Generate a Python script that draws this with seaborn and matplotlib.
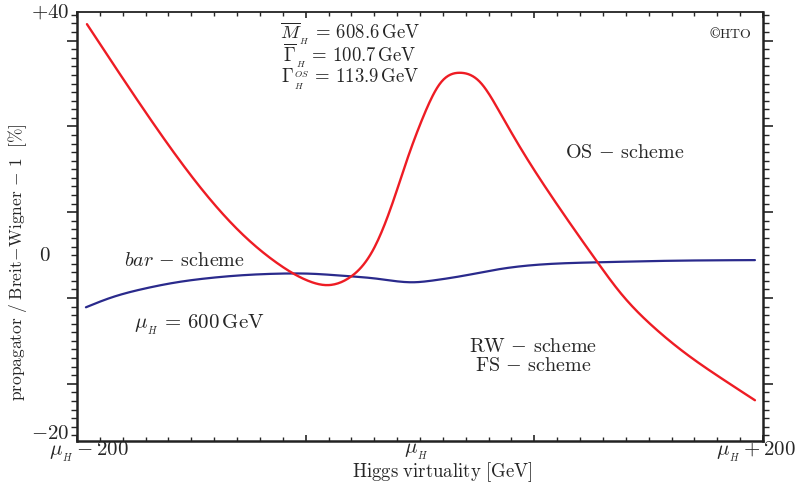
import numpy as np
import pandas as pd
import matplotlib
matplotlib.use("Agg")
import matplotlib.pyplot as plt
import matplotlib.transforms as mtransforms
from matplotlib.ticker import MultipleLocator, FixedLocator
import seaborn as sns

# ---- data (x relative to mu_H in GeV, y in %) ----
red_x = [-194.2, -160.9, -122.4, -102.6, -83.4, -64.1, -54.2,
         -40.8, -27.4, -15.7, -7.6, 1.8, 11.7, 23.3, 35.0, 46.7, 58.3, 77.6,
         103.8, 116.6, 135.9, 155.7, 174.9, 195.3]
red_y = [38.3, 26.3, 13.8, 8.7, 4.9, 2.3, 1.8,
         2.9, 6.7, 13.5, 19.3, 25.3, 30.0, 31.5, 30.2, 25.9, 21.1, 13.9,
         4.9, 0.8, -4.0, -7.9, -11.1, -14.3]
blue_x = [-194.8, -180.8, -160.9, -141.7, -122.4, -102.6, -83.4, -64.1, -44.3, -25.1,
          -4.1, 7.6, 27.4, 46.7, 65.9, 105.0, 144.0, 195.3]
blue_y = [-1.3, 0.0, 1.3, 2.2, 2.8, 3.2, 3.4, 3.4, 3.1, 2.7,
          2.2, 2.45, 3.2, 4.05, 4.6, 5.0, 5.2, 5.3]

xtick_vals = [-200, 0, 200]
xtick_labels = [r'$\mu_{_H}-200$', r'$\mu_{_H}$', r'$\mu_{_H}+200$']

sns.set_style("ticks")
plt.rcParams['mathtext.fontset'] = 'cm'
plt.rcParams['font.family'] = ['DejaVu Serif']

fig = plt.figure(figsize=(8.04, 4.83), dpi=100)
ax = fig.add_axes([77/804, 1-441/483, (763-77)/804, (441-12)/483])


def natural_spline(xs, ys, n=600):
    x = np.asarray(xs, float); y = np.asarray(ys, float)
    m = len(x)
    h = np.diff(x)
    A = np.zeros((m, m)); r = np.zeros(m)
    A[0, 0] = 1; A[-1, -1] = 1
    for i in range(1, m-1):
        A[i, i-1] = h[i-1]; A[i, i] = 2*(h[i-1]+h[i]); A[i, i+1] = h[i]
        r[i] = 3*((y[i+1]-y[i])/h[i] - (y[i]-y[i-1])/h[i-1])
    c = np.linalg.solve(A, r)
    b = (y[1:]-y[:-1])/h - h*(2*c[:-1]+c[1:])/3
    d = (c[1:]-c[:-1])/(3*h)
    xx = np.linspace(x[0], x[-1], n)
    idx = np.clip(np.searchsorted(x, xx) - 1, 0, m-2)
    dx = xx - x[idx]
    yy = y[idx] + b[idx]*dx + c[idx]*dx**2 + d[idx]*dx**3
    return xx, yy


rx, ry = natural_spline(red_x, red_y)
bx, by = natural_spline(blue_x, blue_y)
df_r = pd.DataFrame({'x': rx, 'y': ry})
df_b = pd.DataFrame({'x': bx, 'y': by})
sns.lineplot(data=df_b, x='x', y='y', ax=ax, color='#2a2a8c', lw=1.6, sort=False, estimator=None)
sns.lineplot(data=df_r, x='x', y='y', ax=ax, color='#ee1c24', lw=1.7, sort=False, estimator=None)

ax.set_xlim(-200, 200)
ax.set_ylim(-20, 40)

# ticks
ax.xaxis.set_major_locator(FixedLocator([-200, -200+400/3, -200+800/3, 200]))
ax.xaxis.set_minor_locator(MultipleLocator(400/30))
ax.set_xticklabels([])
ax.yaxis.set_major_locator(MultipleLocator(12))
ax.yaxis.set_minor_locator(MultipleLocator(1.2))
ax.set_yticklabels([])
ax.tick_params(axis='x', which='both', direction='in', top=True, bottom=True, width=1.2)
ax.tick_params(axis='x', which='major', length=4.5)
ax.tick_params(axis='x', which='minor', length=2.6, width=1.0)
ax.tick_params(axis='y', which='both', direction='out', left=True, right=True, width=1.2)
ax.tick_params(axis='y', which='major', length=7)
ax.tick_params(axis='y', which='minor', length=4.2, width=1.0)
for s in ['left', 'bottom', 'right']:
    ax.spines[s].set_linewidth(1.8)
ax.spines['top'].set_linewidth(1.3)
for s in ax.spines.values():
    s.set_color('#222222')
ax.set_xlabel('')
ax.set_ylabel('')

# tick labels as text
ty = mtransforms.blended_transform_factory(fig.transFigure, ax.transData)
fs = 15
ax.text(69/804, 40, r'$+40$', transform=ty, ha='right', va='center', fontsize=fs)
ax.text(69/804, -19.0, r'$-20$', transform=ty, ha='right', va='center', fontsize=fs)
ax.text(45/804, 6.0, r'$0$', transform=ty, ha='center', va='center', fontsize=fs)
tx = mtransforms.blended_transform_factory(ax.transData, fig.transFigure)
ax.text(-193, 1-452/483, xtick_labels[0], transform=tx, ha='center', va='center', fontsize=fs)
ax.text(-2, 1-452/483, xtick_labels[1], transform=tx, ha='center', va='center', fontsize=fs)
ax.text(196, 1-452/483, xtick_labels[2], transform=tx, ha='center', va='center', fontsize=fs)

fig.text(442/804, 1-472/483, r'$\mathrm{Higgs\ virtuality\ [GeV]}$', ha='center', va='center', fontsize=13.5)
fig.text(18/804, 1-262/483, r'$\mathrm{propagator\ /\ Breit\!-\!Wigner}\,-\,1\ \ [\%]$',
         ha='center', va='center', rotation=90, fontsize=12.5)


def T(px, py, s, size=14.5, ha='center', **kw):
    fig.text(px/804, 1-py/483, s, ha=ha, va='center', fontsize=size, **kw)


T(350, 56, r'$\overline{M}_{_H}\,=\,608.6\,\mathrm{GeV}$' + '\n'
   + r'$\overline{\Gamma}_{_H}\,=\,100.7\,\mathrm{GeV}$' + '\n'
   + r'$\Gamma^{_{OS}}_{_H}\,=\,113.9\,\mathrm{GeV}$',
  size=13.5, multialignment='center', linespacing=0.78)
T(730, 33, r'$\copyright\mathrm{HTO}$', size=10)
T(625, 153, r'$\mathrm{OS}\,-\,\mathrm{scheme}$')
T(184, 260, r'$bar\,-\,\mathrm{scheme}$')
T(199, 325, r'$\mu_{_H}\,=\,600\,\mathrm{GeV}$', size=15)
T(533, 356, r'$\mathrm{RW}\,-\,\mathrm{scheme}$' + '\n' + r'$\mathrm{FS}\,-\,\mathrm{scheme}$',
  multialignment='center', linespacing=1.0)

fig.savefig('out.png', dpi=100)
